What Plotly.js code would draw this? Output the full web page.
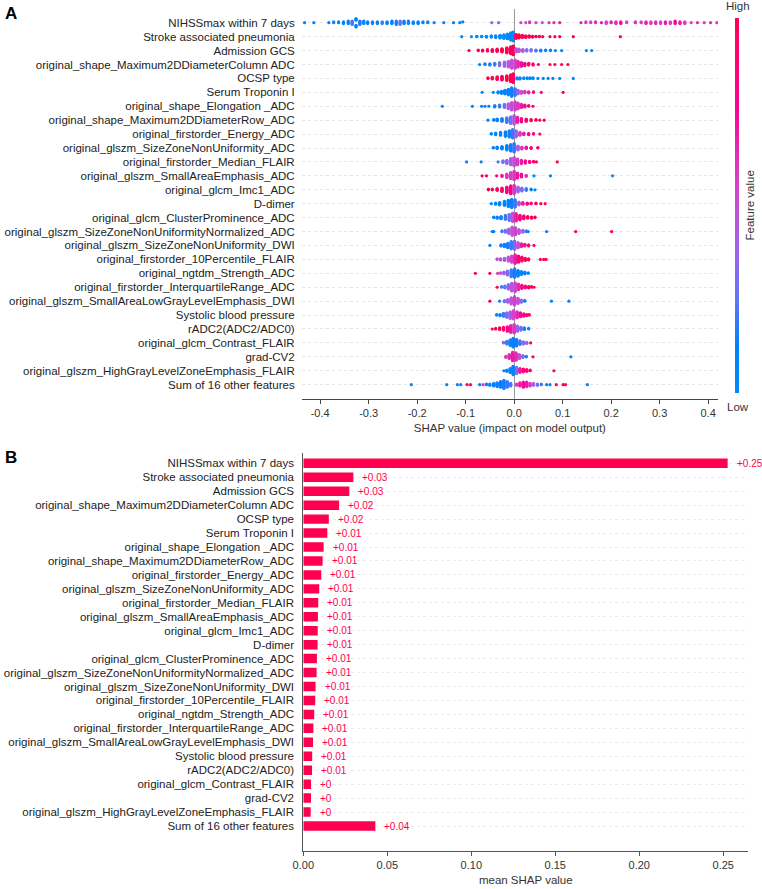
<!DOCTYPE html>
<html><head><meta charset="utf-8">
<script src="https://cdn.plot.ly/plotly-3.0.1.min.js"></script>
<style>html,body{margin:0;padding:0;background:#fff}#chart{width:762px;height:889px}</style>
</head><body><div id="chart"></div>
<script>
// ---------- DATA ----------
const features = [
  'NIHSSmax within 7 days',
  'Stroke associated pneumonia',
  'Admission GCS',
  'original_shape_Maximum2DDiameterColumn ADC',
  'OCSP type',
  'Serum Troponin I',
  'original_shape_Elongation _ADC',
  'original_shape_Maximum2DDiameterRow_ADC',
  'original_firstorder_Energy_ADC',
  'original_glszm_SizeZoneNonUniformity_ADC',
  'original_firstorder_Median_FLAIR',
  'original_glszm_SmallAreaEmphasis_ADC',
  'original_glcm_Imc1_ADC',
  'D-dimer',
  'original_glcm_ClusterProminence_ADC',
  'original_glszm_SizeZoneNonUniformityNormalized_ADC',
  'original_glszm_SizeZoneNonUniformity_DWI',
  'original_firstorder_10Percentile_FLAIR',
  'original_ngtdm_Strength_ADC',
  'original_firstorder_InterquartileRange_ADC',
  'original_glszm_SmallAreaLowGrayLevelEmphasis_DWI',
  'Systolic blood pressure',
  'rADC2(ADC2/ADC0)',
  'original_glcm_Contrast_FLAIR',
  'grad-CV2',
  'original_glszm_HighGrayLevelZoneEmphasis_FLAIR',
  'Sum of 16 other features'
];

// Panel B: mean |SHAP| per feature
const meanShap = [0.2526,0.0298,0.0274,0.0213,0.0152,0.0143,0.0121,0.0115,0.0107,0.0095,0.0089,0.0087,0.0086,0.0085,0.0081,0.0079,0.0073,0.0071,0.0065,0.0060,0.0058,0.0053,0.0052,0.0046,0.0046,0.0044,0.0429];

// Panel A: beeswarm samples per feature as [SHAP value, count, feature value (0 low .. 1 high)]
const swNIHSS = [[-0.432,1,0.1],[-0.413,1,0.12],[-0.382,1,0.1],[-0.372,2,0.15],[-0.362,2,0.1],[-0.352,3,0.12],[-0.342,4,0.1],[-0.334,5,0.2],[-0.326,6,0.12],[-0.318,5,0.15],[-0.31,4,0.1],[-0.302,3,0.12],[-0.292,3,0.15],[-0.282,3,0.1],[-0.272,3,0.2],[-0.262,3,0.12],[-0.252,4,0.1],[-0.243,5,0.15],[-0.235,5,0.25],[-0.227,4,0.12],[-0.218,4,0.15],[-0.208,3,0.1],[-0.198,3,0.12],[-0.188,2,0.1],[-0.178,2,0.15],[-0.165,1,0.1],[-0.145,1,0.1],[-0.125,1,0.1],[-0.112,1,0.1],[-0.106,1,0.12],[-0.046,1,0.35],[-0.032,1,0.3],[0.014,1,0.55],[0.024,1,0.5],[0.032,2,0.6],[0.045,1,0.55],[0.058,1,0.5],[0.072,1,0.6],[0.082,1,0.65],[0.094,1,0.7],[0.138,1,0.65],[0.148,2,0.6],[0.158,2,0.55],[0.168,2,0.65],[0.18,1,0.7],[0.19,3,0.6],[0.2,2,0.7],[0.21,3,0.65],[0.22,3,0.75],[0.232,2,0.55],[0.25,2,0.65],[0.262,2,0.6],[0.272,3,0.7],[0.282,3,0.6],[0.292,3,0.65],[0.302,3,0.55],[0.312,3,0.7],[0.322,3,0.6],[0.332,4,0.75],[0.342,3,0.7],[0.352,3,0.6],[0.365,1,0.55],[0.378,1,0.65],[0.392,1,0.6],[0.405,1,0.65],[0.418,1,0.6]];
const swPneumonia = [[-0.108,1,0],[-0.088,1,0],[-0.077,2,0],[-0.067,2,0],[-0.057,3,0],[-0.047,4,0],[-0.038,5,0],[-0.029,7,0],[-0.021,9,0],[-0.014,12,0],[-0.007,18,0],[-0.002,22,0],[0.004,10,1],[0.01,8,1],[0.017,6,1],[0.024,5,1],[0.031,4,1],[0.038,3,1],[0.045,2,1],[0.052,2,1],[0.059,1,1],[0.074,1,1],[0.084,1,1],[0.094,1,1],[0.122,1,1],[0.219,1,1]];
const swGCS = [[-0.093,1,1],[-0.074,2,1],[-0.065,3,1],[-0.055,4,0.95],[-0.045,5,1],[-0.035,6,1],[-0.025,8,1],[-0.015,12,1],[-0.007,16,0.95],[-0.002,20,1],[0.004,8,0.5],[0.01,6,0.45],[0.018,5,0.4],[0.026,4,0.35],[0.035,4,0.3],[0.045,3,0.2],[0.055,3,0.15],[0.065,2,0.1],[0.075,2,0.1],[0.085,1,0.05],[0.098,1,0.05],[0.149,1,0.05],[0.16,1,0.05]];
const swDiamCol = [[-0.071,1,0.1],[-0.06,2,0.1],[-0.05,3,0.15],[-0.04,4,0.2],[-0.03,6,0.3],[-0.02,8,0.4],[-0.012,10,0.45],[-0.005,14,0.5],[0.002,14,0.55],[0.008,10,0.65],[0.015,7,0.75],[0.022,5,0.85],[0.03,4,0.9],[0.039,3,0.9],[0.05,1,0.95],[0.074,1,1],[0.084,1,1],[0.098,1,1],[0.111,1,1]];
const swOCSP = [[-0.054,2,1],[-0.045,4,1],[-0.035,6,1],[-0.025,8,1],[-0.015,10,1],[-0.007,14,1],[-0.002,18,0.95],[0.006,3,0.05],[0.012,3,0.05],[0.02,2,0.05],[0.027,2,0.05],[0.033,2,0.05],[0.039,2,0.05],[0.049,1,0.05],[0.06,1,0.05],[0.07,1,0.05],[0.08,1,0.05],[0.094,1,0.05],[0.122,1,0.05]];
const swTroponin = [[-0.066,1,0.05],[-0.043,1,0.05],[-0.033,3,0.1],[-0.026,5,0.1],[-0.019,8,0.1],[-0.012,12,0.1],[-0.005,18,0.15],[0.002,14,0.2],[0.008,8,0.35],[0.015,5,0.5],[0.022,4,0.6],[0.03,3,0.7],[0.04,2,0.8],[0.056,1,0.75],[0.101,1,1]];
const swElong = [[-0.148,1,0.1],[-0.086,1,0.1],[-0.067,1,0.1],[-0.06,1,0.1],[-0.052,1,0.1],[-0.04,3,0.15],[-0.03,4,0.2],[-0.02,6,0.3],[-0.012,9,0.4],[-0.005,13,0.5],[0.002,14,0.55],[0.008,10,0.6],[0.015,6,0.7],[0.022,4,0.8],[0.03,2,0.85],[0.039,1,0.9]];
const swDiamRow = [[-0.054,1,0.1],[-0.042,2,0.1],[-0.035,4,0.1],[-0.025,6,0.15],[-0.015,9,0.2],[-0.007,13,0.3],[0,16,0.45],[0.007,10,0.7],[0.015,7,0.85],[0.025,5,0.9],[0.035,3,0.95],[0.045,2,0.95],[0.053,1,1],[0.062,1,1]];
const swEnergy = [[-0.047,2,0.05],[-0.038,4,0.05],[-0.028,6,0.1],[-0.018,9,0.1],[-0.01,12,0.15],[-0.003,16,0.2],[0.004,12,0.35],[0.012,6,0.6],[0.02,4,0.7],[0.03,3,0.8],[0.04,2,0.85],[0.053,1,0.9]];
const swSZNUadc = [[-0.043,2,0.1],[-0.035,4,0.1],[-0.025,6,0.1],[-0.015,10,0.1],[-0.007,14,0.15],[0,18,0.2],[0.008,9,0.4],[0.016,5,0.6],[0.025,4,0.75],[0.035,3,0.85],[0.049,2,0.9]];
const swMedian = [[-0.098,1,0.15],[-0.068,1,0.15],[-0.033,1,0.2],[-0.023,4,0.3],[-0.015,7,0.35],[-0.007,12,0.4],[0,16,0.5],[0.007,11,0.6],[0.015,7,0.7],[0.023,5,0.8],[0.032,3,0.85],[0.04,2,0.9],[0.046,1,0.9],[0.089,1,1]];
const swSAE = [[-0.066,1,1],[-0.057,1,1],[-0.036,1,0.9],[-0.025,3,0.7],[-0.015,7,0.6],[-0.007,12,0.55],[0,16,0.6],[0.007,10,0.7],[0.015,6,0.8],[0.025,3,0.6],[0.041,1,0.1],[0.075,1,0.1],[0.203,1,0.05]];
const swImc1 = [[-0.053,2,1],[-0.045,2,1],[-0.035,4,0.95],[-0.025,7,0.9],[-0.015,11,0.85],[-0.007,15,0.8],[0,16,0.6],[0.008,10,0.4],[0.016,6,0.3],[0.025,4,0.2],[0.035,2,0.1],[0.043,1,0.1]];
const swDdimer = [[-0.047,1,0.05],[-0.038,3,0.05],[-0.03,5,0.1],[-0.02,8,0.1],[-0.012,12,0.1],[-0.005,16,0.15],[0.002,14,0.2],[0.01,6,0.5],[0.018,4,0.7],[0.027,3,0.85],[0.035,2,0.9],[0.045,2,0.95],[0.055,1,1],[0.064,1,0.9]];
const swClusterProm = [[-0.042,2,0.1],[-0.035,3,0.1],[-0.027,5,0.15],[-0.018,8,0.2],[-0.01,12,0.3],[-0.003,16,0.5],[0.004,14,0.7],[0.012,9,0.85],[0.02,6,0.9],[0.028,4,0.95],[0.036,3,1],[0.043,2,1]];
const swSZNUNadc = [[-0.045,1,0.1],[-0.042,1,0.1],[-0.025,2,0.2],[-0.018,4,0.3],[-0.011,8,0.4],[-0.004,14,0.5],[0.003,12,0.55],[0.01,7,0.45],[0.018,4,0.35],[0.025,2,0.2],[0.029,1,0.1],[0.067,1,0.1],[0.127,1,1],[0.201,1,1]];
const swSZNUdwi = [[-0.05,1,0.1],[-0.027,3,0.1],[-0.02,5,0.1],[-0.013,9,0.15],[-0.006,14,0.2],[0.001,16,0.3],[0.008,10,0.5],[0.015,6,0.7],[0.022,4,0.8],[0.03,3,0.85],[0.041,1,0.9]];
const sw10Pct = [[-0.035,2,0.5],[-0.028,3,0.45],[-0.02,5,0.4],[-0.012,8,0.45],[-0.005,12,0.55],[0.002,16,0.7],[0.009,12,0.85],[0.016,8,0.9],[0.023,5,0.95],[0.03,3,1],[0.054,1,1],[0.061,1,1],[0.066,1,1]];
const swStrength = [[-0.08,1,1],[-0.05,1,0.95],[-0.034,1,0.6],[-0.028,2,0.5],[-0.021,4,0.4],[-0.014,8,0.3],[-0.006,13,0.2],[0.001,16,0.15],[0.008,11,0.1],[0.015,6,0.1],[0.022,4,0.1],[0.029,2,0.05]];
const swIQR = [[-0.035,1,1],[-0.026,2,0.2],[-0.019,4,0.25],[-0.012,8,0.35],[-0.005,13,0.45],[0.002,15,0.55],[0.009,10,0.65],[0.016,6,0.8],[0.023,4,0.9],[0.03,3,0.95],[0.036,2,1],[0.041,1,1]];
const swSALGLE = [[-0.05,1,1],[-0.03,1,0.15],[-0.02,3,0.3],[-0.013,6,0.4],[-0.006,12,0.5],[0.001,16,0.55],[0.008,10,0.5],[0.015,5,0.35],[0.022,2,0.1],[0.077,1,0.1],[0.113,1,0.1]];
const swSystolic = [[-0.036,2,0.1],[-0.029,3,0.15],[-0.022,6,0.2],[-0.015,9,0.3],[-0.008,13,0.4],[-0.001,16,0.55],[0.006,12,0.65],[0.013,8,0.75],[0.02,5,0.85],[0.026,3,0.9],[0.031,2,0.95]];
const swRADC2 = [[-0.045,1,1],[-0.038,2,1],[-0.03,4,0.95],[-0.022,6,0.9],[-0.014,9,0.8],[-0.007,13,0.7],[0,16,0.6],[0.007,10,0.4],[0.014,6,0.25],[0.021,4,0.15],[0.03,2,0.1]];
const swContrast = [[-0.022,2,0.3],[-0.015,6,0.2],[-0.008,12,0.15],[-0.002,18,0.1],[0.005,14,0.15],[0.012,8,0.2],[0.019,5,0.3],[0.026,3,0.4],[0.034,1,1]];
const swGradCV2 = [[-0.017,3,0.6],[-0.01,8,0.65],[-0.003,16,0.7],[0.004,14,0.65],[0.011,8,0.5],[0.018,4,0.3],[0.025,2,0.15],[0.039,1,1],[0.117,1,0.1]];
const swHighGray = [[-0.021,1,0.1],[-0.015,3,0.1],[-0.008,8,0.1],[-0.002,16,0.1],[0.005,12,0.3],[0.012,8,0.7],[0.019,6,0.85],[0.026,4,0.9],[0.033,2,0.95],[0.082,1,1]];
const swOther = [[-0.212,1,0.1],[-0.139,1,0.1],[-0.117,1,0.1],[-0.11,1,0.1],[-0.097,1,1],[-0.09,1,0.9],[-0.071,1,0.1],[-0.064,1,0.6],[-0.057,2,0.1],[-0.05,3,0.15],[-0.042,5,0.1],[-0.035,7,0.15],[-0.028,10,0.1],[-0.021,14,0.15],[-0.014,10,0.2],[-0.007,5,0.2],[0.005,3,0.6],[0.012,6,0.7],[0.019,9,0.75],[0.026,8,0.7],[0.033,5,0.6],[0.04,4,0.4],[0.048,3,0.3],[0.056,2,0.2],[0.067,1,0.1],[0.074,1,0.1],[0.087,1,1],[0.101,1,0.9],[0.106,1,1],[0.151,1,0.1]];

const swarmRows = [swNIHSS,swPneumonia,swGCS,swDiamCol,swOCSP,swTroponin,swElong,swDiamRow,swEnergy,swSZNUadc,swMedian,swSAE,swImc1,swDdimer,swClusterProm,swSZNUNadc,swSZNUdwi,sw10Pct,swStrength,swIQR,swSALGLE,swSystolic,swRADC2,swContrast,swGradCV2,swHighGray,swOther];

const shapTicks = [-0.4,-0.3,-0.2,-0.1,0.0,0.1,0.2,0.3,0.4];
const shapTickText = ['-0.4','-0.3','-0.2','-0.1','0.0','0.1','0.2','0.3','0.4'];
const meanTicks = [0,0.05,0.10,0.15,0.20,0.25];
const meanTickText = ['0.00','0.05','0.10','0.15','0.20','0.25'];

// ---------- LAYOUT HELPERS ----------
const W = 762, H = 889;
const FONT = 'Liberation Sans, Arial, Helvetica, sans-serif';
const RED = '#ff0051';
const nRows = features.length;
const rowPos = features.map((_, i) => nRows - 1 - i);

// SHAP-style beeswarm stacking of points within small x bins
function beeswarm(groups) {
  const xs = [], cs = [];
  groups.forEach(g => { for (let k = 0; k < g[1]; k++) { xs.push(g[0]); cs.push(g[2]); } });
  const N = xs.length, nb = 100;
  const mn = Math.min(...xs), mx = Math.max(...xs);
  const quant = xs.map(v => Math.round(nb * (v - mn) / (mx - mn + 1e-8)));
  const inds = [...Array(N).keys()].sort((a, b) => (quant[a] - quant[b]) || (a - b));
  const ys = new Array(N).fill(0);
  let layer = 0, last = -1;
  for (const i of inds) {
    if (quant[i] !== last) layer = 0;
    ys[i] = Math.ceil(layer / 2) * ((layer % 2) * 2 - 1);
    layer++; last = quant[i];
  }
  const m = Math.max(...ys.map(v => v + 1));
  const s = 0.9 * (0.4 / m);
  return { xs, ys: ys.map(v => v * s), cs };
}

const bx = [], by = [], bc = [];
swarmRows.forEach((row, i) => {
  const r = beeswarm(row);
  r.xs.forEach((x, k) => { bx.push(x); by.push(rowPos[i] + r.ys[k]); bc.push(r.cs[k]); });
});

const colorscale = [
  [0, 'rgb(0,138,250)'], [0.125, 'rgb(0,129,253)'], [0.25, 'rgb(99,116,247)'],
  [0.375, 'rgb(155,100,234)'], [0.5, 'rgb(196,79,212)'], [0.625, 'rgb(225,51,184)'],
  [0.75, 'rgb(246,7,153)'], [0.875, 'rgb(255,0,117)'], [1, 'rgb(255,0,81)']
];

function fmtVal(v) {
  let s = v.toFixed(2).replace(/\.?0+$/, '');
  if (s === '') s = '0';
  return (v >= 0 ? '+' : '') + s;
}

const px = p => p / W;
const py = p => 1 - p / H;

const traces = [
  {
    type: 'scatter', mode: 'markers', x: bx, y: by, xaxis: 'x', yaxis: 'y',
    hoverinfo: 'skip',
    marker: {
      size: 3.2, color: bc, cmin: 0, cmax: 1, colorscale: colorscale,
      line: { width: 0 },
      colorbar: {
        x: px(735), xanchor: 'left', xpad: 0, ypad: 0,
        y: py(205.5), yanchor: 'middle', len: 375 / H, lenmode: 'fraction',
        thickness: 4, thicknessmode: 'pixels', outlinewidth: 0,
        showticklabels: false, ticks: ''
      }
    }
  },
  {
    type: 'bar', orientation: 'h', x: meanShap, y: rowPos, xaxis: 'x2', yaxis: 'y2',
    width: 0.68, marker: { color: RED, line: { width: 0 } }, hoverinfo: 'skip'
  }
];

const annotations = [
  { text: '<b>A</b>', x: px(3), y: py(13), xref: 'paper', yref: 'paper', xanchor: 'left', yanchor: 'middle', showarrow: false, font: { size: 17, color: '#000' } },
  { text: '<b>B</b>', x: px(3), y: py(457), xref: 'paper', yref: 'paper', xanchor: 'left', yanchor: 'middle', showarrow: false, font: { size: 17, color: '#000' } },
  { text: 'High', x: px(738), y: py(6), xref: 'paper', yref: 'paper', xanchor: 'center', yanchor: 'middle', showarrow: false, font: { size: 11.5, color: '#333' } },
  { text: 'Low', x: px(738), y: py(407), xref: 'paper', yref: 'paper', xanchor: 'center', yanchor: 'middle', showarrow: false, font: { size: 11.5, color: '#333' } },
  { text: 'Feature value', x: px(749), y: py(205.5), xref: 'paper', yref: 'paper', xanchor: 'center', yanchor: 'middle', textangle: -90, showarrow: false, font: { size: 11.5, color: '#333' } }
];
meanShap.forEach((v, i) => {
  annotations.push({
    text: fmtVal(v), x: v, y: rowPos[i], xref: 'x2', yref: 'y2',
    xanchor: 'left', yanchor: 'middle', xshift: 7, showarrow: false,
    font: { size: 10, color: RED }
  });
});

const layout = {
  width: W, height: H, autosize: false,
  margin: { l: 0, r: 0, t: 0, b: 0, pad: 0 },
  paper_bgcolor: '#fff', plot_bgcolor: '#fff',
  showlegend: false,
  font: { family: FONT, size: 11.5, color: '#333' },
  xaxis: {
    domain: [px(301.7), px(718)], range: [-0.438, 0.4204], anchor: 'y',
    showline: true, linecolor: '#444', linewidth: 1, mirror: false,
    ticks: 'outside', ticklen: 4, tickcolor: '#444', tickwidth: 1,
    tickvals: shapTicks, ticktext: shapTickText, tickfont: { size: 11, color: '#333' },
    showgrid: false, zeroline: true, zerolinecolor: '#999', zerolinewidth: 1,
    title: { text: 'SHAP value (impact on model output)', font: { size: 11.5, color: '#333' }, standoff: 6 },
    fixedrange: true
  },
  yaxis: {
    domain: [py(398.6), py(8.8)], range: [-1, 27], anchor: 'x',
    tickvals: rowPos, ticktext: features, tickfont: { size: 11.5, color: '#222' },
    ticks: '', showline: false, zeroline: false, ticklabelstandoff: 6,
    showgrid: true, gridcolor: '#d4d4d4', gridwidth: 0.6, griddash: 'dot',
    fixedrange: true
  },
  xaxis2: {
    domain: [px(303.3), px(748.3)], range: [0, 0.2649], anchor: 'y2',
    showline: true, linecolor: '#555', linewidth: 1,
    ticks: 'outside', ticklen: 4, tickcolor: '#555', tickwidth: 1,
    tickvals: meanTicks, ticktext: meanTickText, tickfont: { size: 11, color: '#333' },
    showgrid: false, zeroline: false,
    title: { text: 'mean SHAP value', font: { size: 11.5, color: '#333' }, standoff: 6 },
    fixedrange: true
  },
  yaxis2: {
    domain: [py(850.7), py(453)], range: [-1.77, 26.74], anchor: 'x2',
    tickvals: rowPos, ticktext: features, tickfont: { size: 11.5, color: '#222' },
    ticks: '', showline: true, linecolor: '#555', linewidth: 1, zeroline: false, ticklabelstandoff: 6,
    showgrid: true, gridcolor: '#e0e0e0', gridwidth: 0.6, griddash: 'dot',
    fixedrange: true
  },
  annotations: annotations
};

Plotly.newPlot('chart', traces, layout, { staticPlot: true, displayModeBar: false });
</script>
</body></html>
